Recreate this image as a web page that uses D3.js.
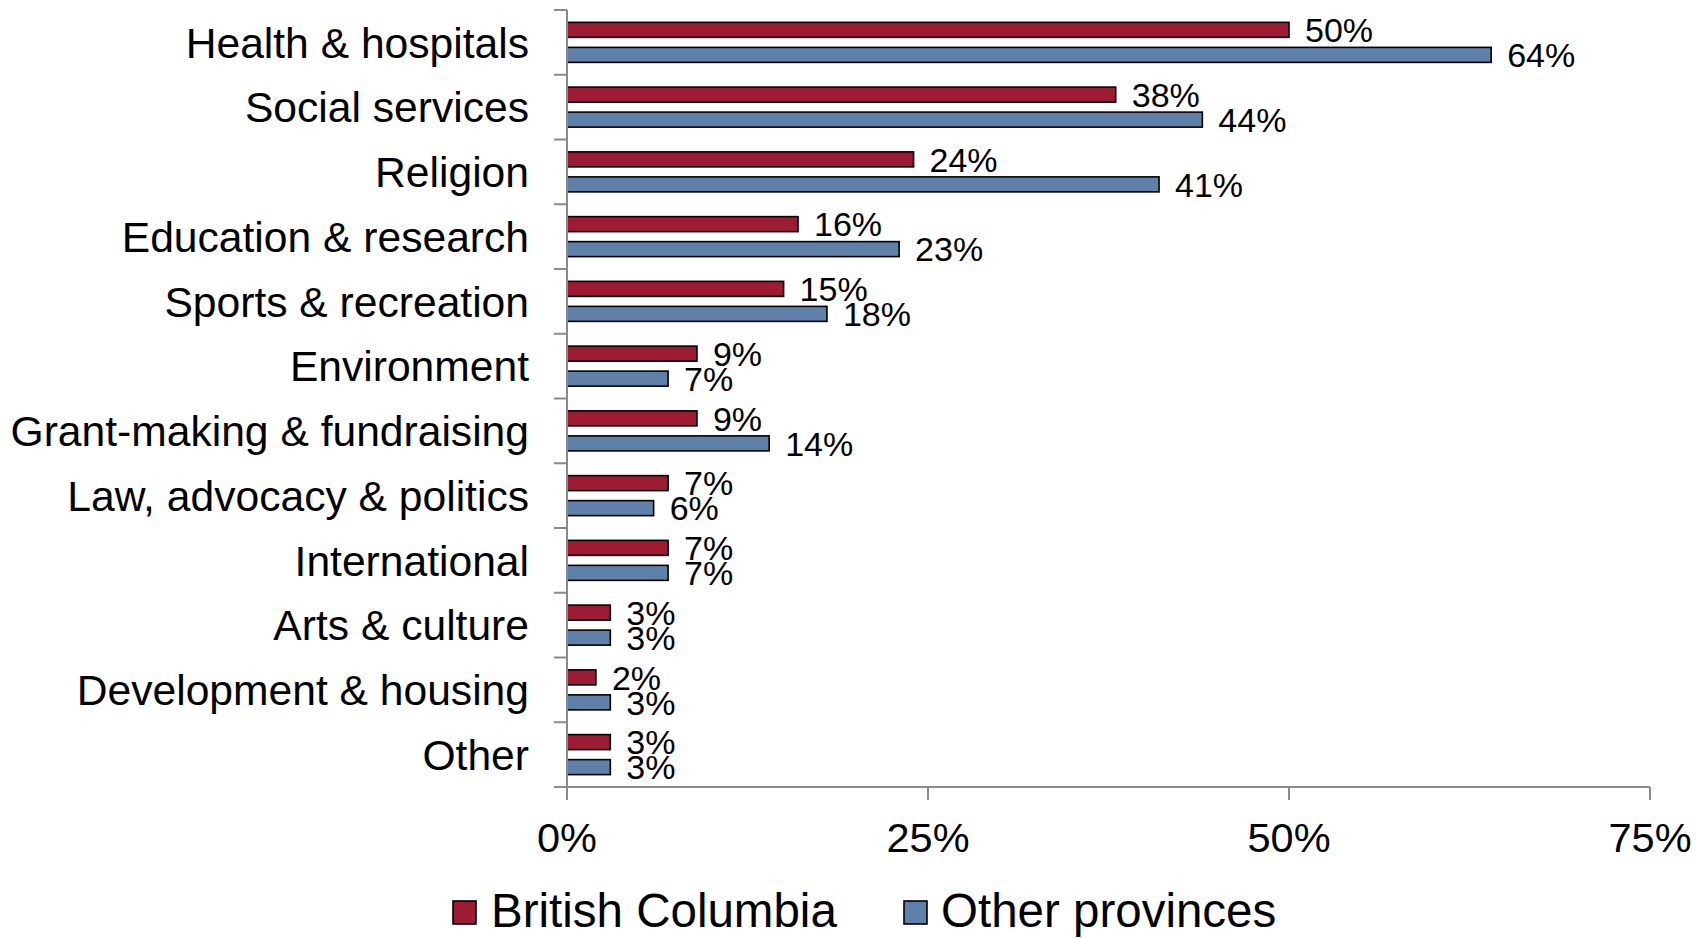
<!DOCTYPE html>
<html>
<head>
<meta charset="utf-8">
<script src="https://cdn.jsdelivr.net/npm/d3@7"></script>
<style>
  html, body { margin: 0; padding: 0; background: #fff; }
  svg { display: block; }
  svg text { font-family: Arial, "Liberation Sans", Helvetica, sans-serif; }
</style>
</head>
<body>
<svg id="chart" width="1708" height="938"></svg>
<script>
// Areas of activity
const categories = [
  "Health & hospitals", "Social services", "Religion", "Education & research",
  "Sports & recreation", "Environment", "Grant-making & fundraising",
  "Law, advocacy & politics", "International", "Arts & culture",
  "Development & housing", "Other"
];
const seriesNames = ["British Columbia", "Other provinces"];
const britishColumbia = [50, 38, 24, 16, 15, 9, 9, 7, 7, 3, 2, 3];
const otherProvinces  = [64, 44, 41, 23, 18, 7, 14, 6, 7, 3, 3, 3];
const xTicks = [0, 25, 50, 75];

const colors = ["#9d1b33", "#5f80a8"];
const axisColor = "#8a8a8a";
const fontFamily = "'Liberation Sans', Arial, Helvetica, sans-serif";

const svg = d3.select("#chart").attr("font-family", fontFamily);
const plot = { left: 567, right: 1650, top: 10, bottom: 787 };

const x = d3.scaleLinear().domain([0, 75]).range([plot.left, plot.right]);
const y = d3.scaleBand().domain(categories).range([plot.top, plot.bottom]);
const bw = y.bandwidth();
const barH = 15;
// bar centres within each band, one per series
const inner = d3.scaleBand().domain(seriesNames).range([bw * 0.5 - 25, bw * 0.5 + 25]);

const series = [britishColumbia, otherProvinces];

// Bars with value labels
series.forEach((vals, si) => {
  const g = svg.append("g");
  g.selectAll("rect").data(vals).join("rect")
    .attr("x", x(0))
    .attr("y", (d, i) => y(categories[i]) + inner(seriesNames[si]) + inner.bandwidth() / 2 - barH / 2)
    .attr("width", d => x(d) - x(0))
    .attr("height", barH)
    .attr("fill", colors[si])
    .attr("stroke", "#000")
    .attr("stroke-width", 1.6);
  g.selectAll("text").data(vals).join("text")
    .attr("x", d => x(d) + 16)
    .attr("y", (d, i) => y(categories[i]) + inner(seriesNames[si]) + inner.bandwidth() / 2)
    .attr("dy", "0.36em")
    .attr("font-family", fontFamily)
    .attr("font-size", 34)
    .attr("fill", "#000")
    .text(d => d + "%");
});

// Y axis
const yAxisG = svg.append("g");
yAxisG.append("line")
  .attr("x1", x(0)).attr("x2", x(0))
  .attr("y1", plot.top).attr("y2", plot.bottom + 13)
  .attr("stroke", axisColor).attr("stroke-width", 2);
const boundaries = categories.map(c => y(c)).concat([plot.bottom]);
yAxisG.selectAll("line.tick").data(boundaries).join("line")
  .attr("class", "tick")
  .attr("x1", x(0) - 13).attr("x2", x(0))
  .attr("y1", d => d).attr("y2", d => d)
  .attr("stroke", axisColor).attr("stroke-width", 2);
yAxisG.selectAll("text").data(categories).join("text")
  .attr("x", 529)
  .attr("y", d => y(d) + bw / 2)
  .attr("dy", "0.36em")
  .attr("text-anchor", "end")
  .attr("font-family", fontFamily)
  .attr("font-size", 42.6)
  .attr("fill", "#000")
  .text(d => d);

// X axis
const xAxisG = svg.append("g");
xAxisG.append("line")
  .attr("x1", x(0) - 13).attr("x2", x(75))
  .attr("y1", plot.bottom).attr("y2", plot.bottom)
  .attr("stroke", axisColor).attr("stroke-width", 2);
xAxisG.selectAll("line.tick").data(xTicks).join("line")
  .attr("class", "tick")
  .attr("x1", d => x(d)).attr("x2", d => x(d))
  .attr("y1", plot.bottom).attr("y2", plot.bottom + 13)
  .attr("stroke", axisColor).attr("stroke-width", 2);
xAxisG.selectAll("text").data(xTicks).join("text")
  .attr("x", d => x(d))
  .attr("y", 852)
  .attr("text-anchor", "middle")
  .attr("font-family", fontFamily)
  .attr("font-size", 41.5)
  .attr("fill", "#000")
  .text(d => d + "%");

// Legend
const legendItems = [
  { name: seriesNames[0], color: colors[0], sx: 453, tx: 491 },
  { name: seriesNames[1], color: colors[1], sx: 904, tx: 941 }
];
const lg = svg.append("g");
legendItems.forEach(it => {
  lg.append("rect")
    .attr("x", it.sx).attr("y", 901)
    .attr("width", 23).attr("height", 23)
    .attr("fill", it.color)
    .attr("stroke", "#000").attr("stroke-width", 1.6);
  lg.append("text")
    .attr("x", it.tx).attr("y", 927)
    .attr("font-family", fontFamily)
    .attr("font-size", 47.5)
    .attr("fill", "#000")
    .text(it.name);
});
</script>
</body>
</html>
